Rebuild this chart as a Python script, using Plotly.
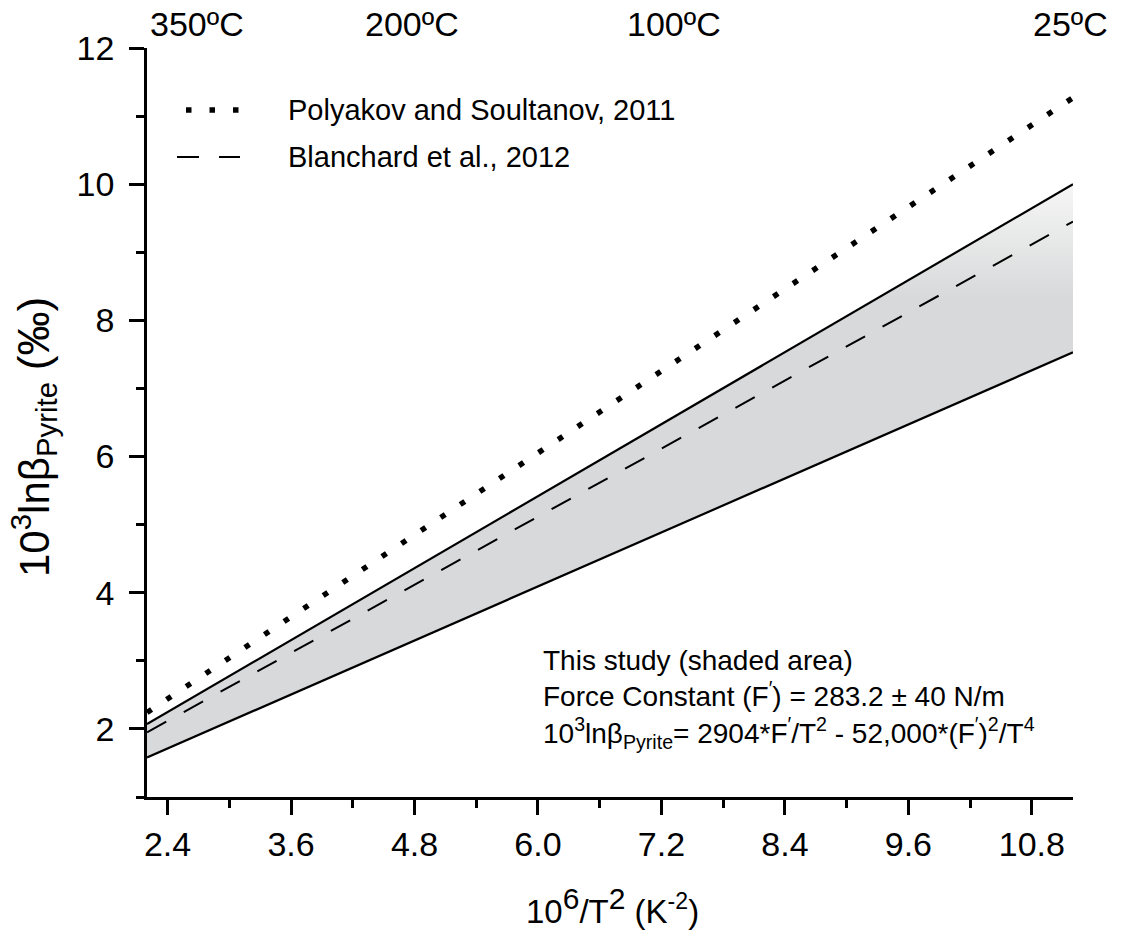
import plotly.graph_objects as go

# ---- data ----
x_ends = [2.2, 11.2]                      # 10^6/T^2 (K^-2) at the plot edges
polyakov_2011 = [2.24, 11.27]             # dotted line
blanchard_2012 = [1.95, 9.45]             # dashed line
this_study_upper = [2.07, 10.0]           # upper bound of shaded area
this_study_lower = [1.58, 7.53]           # lower bound of shaded area

x_major_ticks = [2.4, 3.6, 4.8, 6.0, 7.2, 8.4, 9.6, 10.8]
x_minor_ticks = [3.0, 4.2, 5.4, 6.6, 7.8, 9.0, 10.2]
y_major_ticks = [2, 4, 6, 8, 10, 12]
y_minor_ticks = [1, 3, 5, 7, 9, 11]
temp_tick_positions = [2.52, 4.64, 7.17, 11.13]
temp_labels = ["350ºC", "200ºC", "100ºC", "25ºC"]
legend_names = ["Polyakov and Soultanov, 2011", "Blanchard et al., 2012"]

# ---- styles / layout helpers ----
FONT = "Liberation Sans, Arial, Helvetica, sans-serif"
LW = 2.5
L, R, T, B = 147, 50, 48, 142
W, H = 1123, 939
PW, PH = W - L - R, H - T - B
label_xshift = [17, 14, 16, 5]
DOT = dict(color="black", width=5.5, dash="5.5px,18px")
DASH = dict(color="black", width=2, dash="22px,20px")


def px(xp):
    return (xp - L) / PW


def py(yp):
    return (H - B - yp) / PH


fig = go.Figure()

fig.add_trace(go.Scatter(
    x=x_ends, y=this_study_lower, mode="lines",
    line=dict(color="black", width=2.2), showlegend=False, hoverinfo="skip"))
fig.add_trace(go.Scatter(
    x=x_ends, y=this_study_upper, mode="lines",
    line=dict(color="black", width=2.2), showlegend=False, hoverinfo="skip",
    fill="tonexty",
    fillgradient=dict(type="vertical",
                      colorscale=[[0, "#d8d9da"], [0.8, "#d8d9da"], [1, "#f6f6f6"]])))

fig.add_trace(go.Scatter(
    x=x_ends, y=polyakov_2011, mode="lines", name=legend_names[0],
    line=DOT, showlegend=False))
fig.add_trace(go.Scatter(
    x=x_ends, y=blanchard_2012, mode="lines", name=legend_names[1],
    line=DASH, showlegend=False))

axis_common = dict(showline=True, linewidth=LW, linecolor="black", showgrid=False,
                   zeroline=False, tickcolor="black", tickwidth=LW)

fig.update_layout(
    width=W, height=H,
    margin=dict(l=L, r=R, t=T, b=B),
    paper_bgcolor="white", plot_bgcolor="white",
    font=dict(family=FONT, color="black", size=28),
    xaxis=dict(range=[2.2, 11.2], ticks="outside", ticklen=15, tickvals=x_major_ticks,
               tickformat=".1f", tickfont=dict(size=34),
               minor=dict(tickvals=x_minor_ticks, ticks="outside", ticklen=8,
                          tickwidth=LW, tickcolor="black"),
               **axis_common),
    yaxis=dict(range=[1, 12], ticks="outside", ticklen=15, tickvals=y_major_ticks,
               tickfont=dict(size=34), ticklabelstandoff=8,
               minor=dict(tickvals=y_minor_ticks, ticks="outside", ticklen=8,
                          tickwidth=LW, tickcolor="black"),
               **axis_common),
    xaxis2=dict(range=[2.2, 11.2], overlaying="x", side="top", anchor="y",
                ticks="inside", ticklen=14, tickvals=temp_tick_positions,
                showticklabels=False, **axis_common),
    yaxis2=dict(range=[1, 12], overlaying="y", side="right", anchor="x",
                ticks="inside", ticklen=15, tickvals=y_major_ticks, showticklabels=False,
                minor=dict(tickvals=y_minor_ticks, ticks="inside", ticklen=8,
                           tickwidth=LW, tickcolor="black"),
                **axis_common),
    showlegend=False,
)

# top temperature labels
for pos, lab, xs in zip(temp_tick_positions, temp_labels, label_xshift):
    fig.add_annotation(x=pos, xref="x", y=1, yref="paper", text=lab, showarrow=False,
                       xanchor="center", yanchor="bottom", xshift=xs, yshift=3,
                       font=dict(size=34))

# axis titles
fig.add_annotation(
    x=px(612), xref="paper", y=py(906), yref="paper", showarrow=False,
    xanchor="center", yanchor="middle",
    text="10<sup><span style='font-size:30px'>6</span></sup>/T<sup><span style='font-size:30px'>2</span></sup> (K<sup>-2</sup>)",
    font=dict(size=33))
fig.add_annotation(
    x=px(33), xref="paper", y=py(437), yref="paper", showarrow=False,
    xanchor="center", yanchor="middle", textangle=-90,
    text="10<sup>3</sup>lnβ<sub>Pyrite</sub> <span style='font-size:44px'>(‰)</span>",
    font=dict(size=42))

# manual legend
fig.add_shape(type="line", xref="paper", yref="paper",
              x0=px(186), x1=px(241), y0=py(110), y1=py(110), line=DOT)
fig.add_shape(type="line", xref="paper", yref="paper",
              x0=px(177), x1=px(240), y0=py(157), y1=py(157), line=DASH)
for name, ypx in zip(legend_names, [110, 157]):
    fig.add_annotation(x=px(286), xref="paper", y=py(ypx), yref="paper", text=name,
                       showarrow=False, xanchor="left", yanchor="middle",
                       font=dict(size=29))

study_lines = [
    "This study (shaded area)",
    "Force Constant (F<sup>′</sup>) = 283.2 ± 40 N/m",
    "10<sup>3</sup>lnβ<sub>Pyrite</sub>= 2904*F<sup>′</sup>/T<sup>2</sup> - 52,000*(F<sup>′</sup>)<sup>2</sup>/T<sup>4</sup>",
]
fig.add_annotation(x=px(541), xref="paper", y=py(699), yref="paper",
                   text="<br>".join(study_lines), showarrow=False,
                   xanchor="left", yanchor="middle", align="left",
                   font=dict(size=28))

fig.write_html("out.html")
